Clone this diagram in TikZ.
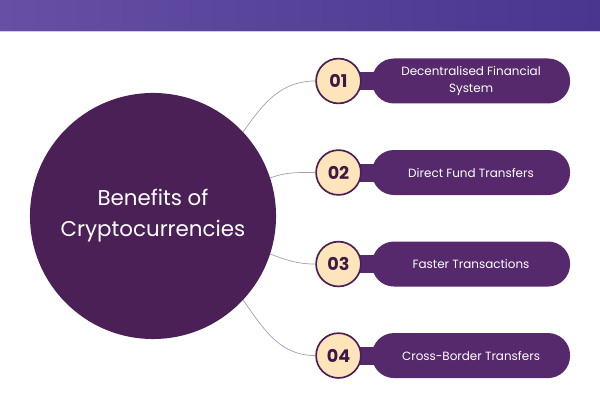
\documentclass[tikz,border=0pt]{standalone}
\usepackage{fontspec}
\setmainfont{Poppins}
\usepackage{tikz}
\usetikzlibrary{shapes.geometric, arrows, positioning, backgrounds, calc}
\definecolor{grape}{HTML}{4B2057}
\definecolor{plum}{HTML}{55296B}
\definecolor{peach}{HTML}{FDE4BA}
\definecolor{lilac}{HTML}{A79DB5}
\definecolor{bandleft}{HTML}{6550A5}
\definecolor{bandright}{HTML}{4A358F}
\tikzstyle{hub} = [circle, minimum size=6.15cm, fill=grape, text=white, align=center, font=\fontsize{15.2}{22}\selectfont]
\tikzstyle{badge} = [circle, minimum size=1.12cm, inner sep=0pt, fill=peach, draw=grape, line width=1.2pt, text=grape!80!black, font=\bfseries\fontsize{12.5}{14}\selectfont]
\tikzstyle{pill} = [rectangle, rounded corners=0.55cm, minimum width=4.95cm, minimum height=1.125cm, fill=plum, text=white, align=center, font=\fontsize{8.5}{11.5}\selectfont]
\tikzstyle{link} = [draw=lilac, line width=0.5pt]

\begin{document}
\begin{tikzpicture}[x=0.025cm, y=0.025cm, node distance=2.2875cm]
	\useasboundingbox (0,0) rectangle (600,400);
	% header band
	\shade [left color=bandleft, right color=bandright] (0,369) rectangle (600,400);
	\draw [bandleft!30, line width=1pt] (0,368.5) -- (600,368.5);
	\node (hub) [hub] at (153,184) {Benefits of\\Cryptocurrencies};
	\node (b1) [badge] at (338.5,319) {01};
	\node (b2) [badge, below of=b1] {02};
	\node (b3) [badge, below of=b2] {03};
	\node (b4) [badge, below of=b3] {04};
	\node (p1) [pill, right of=b1, xshift=1.025cm] {Decentralised Financial\\System};
	\node (p2) [pill, right of=b2, xshift=1.025cm] {Direct Fund Transfers};
	\node (p3) [pill, right of=b3, xshift=1.025cm] {Faster Transactions};
	\node (p4) [pill, right of=b4, xshift=1.025cm] {Cross-Border Transfers};
	%necks
	\begin{pgfonlayer}{background}
	\foreach \i in {1,...,4}
		\fill [plum] ($(b\i.center)+(0,-9)$) rectangle ($(p\i.center)+(0,9)$);
	\end{pgfonlayer}
	%lines
	\draw [link] (hub.43) to[out=55, in=180] (b1.west);
	\draw [link] (hub.18) to[out=20, in=180] (b2.west);
	\draw [link] (hub.-18) to[out=-20, in=180] (b3.west);
	\draw [link] (hub.-43) to[out=-55, in=180] (b4.west);
\end{tikzpicture}
\end{document}
